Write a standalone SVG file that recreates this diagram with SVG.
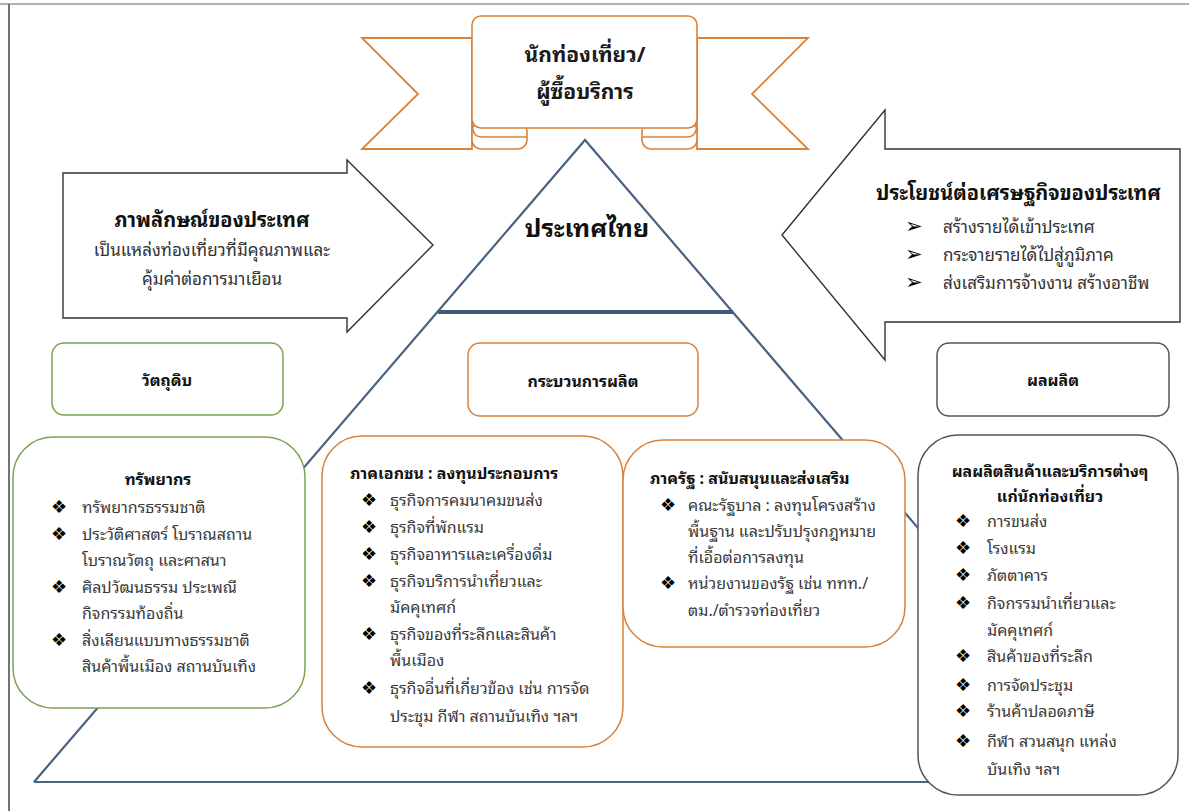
<svg xmlns="http://www.w3.org/2000/svg" width="1189" height="811" viewBox="0 0 1189 811">
<style>
text{font-family:"Noto Sans Thai Looped","Noto Sans Thai","Noto Sans Thai UI",Tahoma,"Leelawadee UI","DejaVu Sans",sans-serif;}
.t{font-size:16px;fill:#3a3a3a;}
.b{font-size:16px;font-weight:bold;fill:#111;}
.h{font-size:20px;font-weight:bold;fill:#111;}
.m{font-size:17px;fill:#333;}
.ban{font-size:21px;font-weight:bold;fill:#1a1a1a;}
.big{font-size:25px;font-weight:bold;fill:#111;}
.blt{font-family:"DejaVu Sans",sans-serif;font-size:18px;fill:#000;}
.arr{font-family:"DejaVu Sans",sans-serif;font-size:21px;fill:#000;}
.c{text-anchor:middle;}
.rib{fill:#fff;stroke:#d9823b;stroke-width:1.6;}
.grn{fill:#fff;stroke:#7aa356;stroke-width:1.5;}
.org{fill:#fff;stroke:#d9823b;stroke-width:1.5;}
.gry{fill:#fff;stroke:#555;stroke-width:1.5;}
.arrow{fill:#fff;stroke:#333;stroke-width:1.4;}
.tri{fill:none;stroke:#4a6381;stroke-width:2.2;}
</style>

<!-- page frame -->
<line x1="0" y1="4" x2="1189" y2="4" stroke="#999" stroke-width="1.5"/>
<line x1="9" y1="4" x2="9" y2="811" stroke="#444" stroke-width="1.5"/>

<!-- triangle / connectors -->
<g id="connectors">
  <path class="tri" d="M34,782 L585,140 L1136,782"/>
  <path class="tri" d="M34,782 L1136,782"/>
  <path d="M438,312 L733,312" stroke="#41597a" stroke-width="4" fill="none"/>
</g>

<g id="country">
  <text class="big c" x="587" y="237">ประเทศไทย</text>
</g>

<!-- banner -->
<g id="tourist">
  <polygon points="362,38 472,38 472,149 362,149 418,94" fill="#ffffff" stroke="#d9823b" stroke-width="1.8"/>
  <polygon points="808,38 697,38 697,149 808,149 752,94" fill="#ffffff" stroke="#d9823b" stroke-width="1.8"/>
  <rect class="rib" x="472" y="122" width="55" height="27" rx="9"/>
  <rect class="rib" x="642" y="122" width="55" height="27" rx="9"/>
  <rect class="rib" x="472" y="16" width="225" height="112" rx="9"/>
  <path d="M472,126 Q473,137 482,137 L527,137" fill="none" stroke="#d9823b" stroke-width="1.6"/>
  <path d="M697,126 Q696,137 687,137 L642,137" fill="none" stroke="#d9823b" stroke-width="1.6"/>
  <text class="ban c" x="585" y="62">นักท่องเที่ยว/</text>
  <text class="ban c" x="585" y="99">ผู้ซื้อบริการ</text>
</g>

<!-- left arrow -->
<g id="image">
  <polygon class="arrow" points="63,173 347,173 347,160 433,245 347,332 347,318 63,318"/>
  <text class="h c" x="212" y="227">ภาพลักษณ์ของประเทศ</text>
  <text class="m c" x="212" y="256">เป็นแหล่งท่องเที่ยวที่มีคุณภาพและ</text>
  <text class="m c" x="212" y="285">คุ้มค่าต่อการมาเยือน</text>
</g>

<!-- right arrow -->
<g id="benefit">
  <polygon class="arrow" points="782,235 885,110 885,149 1180,149 1180,322 885,322 885,360"/>
  <text class="h" x="876" y="200">ประโยชน์ต่อเศรษฐกิจของประเทศ</text>
  <text class="arr" x="905" y="233">➢</text>
  <text class="m" x="943" y="233">สร้างรายได้เข้าประเทศ</text>
  <text class="arr" x="905" y="261">➢</text>
  <text class="m" x="943" y="261">กระจายรายได้ไปสู่ภูมิภาค</text>
  <text class="arr" x="905" y="289">➢</text>
  <text class="m" x="943" y="289">ส่งเสริมการจ้างงาน สร้างอาชีพ</text>
</g>

<!-- header boxes -->
<g id="raw">
  <rect class="grn" x="52" y="343" width="231" height="72" rx="12"/>
  <text class="b c" x="167" y="386">วัตถุดิบ</text>
</g>
<g id="process">
  <rect class="org" x="468" y="343" width="230" height="73" rx="12"/>
  <text class="b c" x="583" y="387">กระบวนการผลิต</text>
</g>
<g id="output">
  <rect class="gry" x="937" y="343" width="232" height="73" rx="12"/>
  <text class="b c" x="1053" y="386">ผลผลิต</text>
</g>

<!-- resources -->
<g id="resources">
  <rect class="grn" x="13" y="437" width="292" height="271" rx="40"/>
  <text class="b c" x="158" y="485">ทรัพยากร</text>
  <text class="blt" x="51" y="513">❖</text><text class="t" x="82" y="513">ทรัพยากรธรรมชาติ</text>
  <text class="blt" x="51" y="540">❖</text><text class="t" x="82" y="540">ประวัติศาสตร์ โบราณสถาน</text>
  <text class="t" x="82" y="566">โบราณวัตถุ และศาสนา</text>
  <text class="blt" x="51" y="593">❖</text><text class="t" x="82" y="593">ศิลปวัฒนธรรม ประเพณี</text>
  <text class="t" x="82" y="619">กิจกรรมท้องถิ่น</text>
  <text class="blt" x="51" y="646">❖</text><text class="t" x="82" y="646">สิ่งเลียนแบบทางธรรมชาติ</text>
  <text class="t" x="82" y="672">สินค้าพื้นเมือง สถานบันเทิง</text>
</g>

<!-- private sector -->
<g id="private">
  <rect class="org" x="322" y="436" width="301" height="311" rx="40"/>
  <text class="b" x="350" y="479">ภาคเอกชน : ลงทุนประกอบการ</text>
  <text class="blt" x="361" y="506">❖</text><text class="t" x="390" y="506">ธุรกิจการคมนาคมขนส่ง</text>
  <text class="blt" x="361" y="533">❖</text><text class="t" x="390" y="533">ธุรกิจที่พักแรม</text>
  <text class="blt" x="361" y="560">❖</text><text class="t" x="390" y="560">ธุรกิจอาหารและเครื่องดื่ม</text>
  <text class="blt" x="361" y="587">❖</text><text class="t" x="390" y="587">ธุรกิจบริการนำเที่ยวและ</text>
  <text class="t" x="390" y="613">มัคคุเทศก์</text>
  <text class="blt" x="361" y="640">❖</text><text class="t" x="390" y="640">ธุรกิจของที่ระลึกและสินค้า</text>
  <text class="t" x="390" y="666">พื้นเมือง</text>
  <text class="blt" x="361" y="694">❖</text><text class="t" x="390" y="694">ธุรกิจอื่นที่เกี่ยวข้อง เช่น การจัด</text>
  <text class="t" x="390" y="722">ประชุม กีฬา สถานบันเทิง ฯลฯ</text>
</g>

<!-- government -->
<g id="government">
  <rect class="org" x="623" y="440" width="282" height="207" rx="40"/>
  <text class="b" x="650" y="484">ภาครัฐ : สนับสนุนและส่งเสริม</text>
  <text class="blt" x="660" y="511">❖</text><text class="t" x="688" y="511">คณะรัฐบาล : ลงทุนโครงสร้าง</text>
  <text class="t" x="688" y="537">พื้นฐาน และปรับปรุงกฎหมาย</text>
  <text class="t" x="688" y="563">ที่เอื้อต่อการลงทุน</text>
  <text class="blt" x="660" y="589">❖</text><text class="t" x="688" y="589">หน่วยงานของรัฐ เช่น ททท./</text>
  <text class="t" x="688" y="616">ตม./ตำรวจท่องเที่ยว</text>
</g>

<!-- products -->
<g id="products">
  <rect class="gry" x="918" y="435" width="260" height="360" rx="40"/>
  <text class="b c" x="1050" y="477">ผลผลิตสินค้าและบริการต่างๆ</text>
  <text class="b c" x="1050" y="502">แก่นักท่องเที่ยว</text>
  <text class="blt" x="955" y="527">❖</text><text class="t" x="987" y="527">การขนส่ง</text>
  <text class="blt" x="955" y="554">❖</text><text class="t" x="987" y="554">โรงแรม</text>
  <text class="blt" x="955" y="581">❖</text><text class="t" x="987" y="581">ภัตตาคาร</text>
  <text class="blt" x="955" y="609">❖</text><text class="t" x="987" y="609">กิจกรรมนำเที่ยวและ</text>
  <text class="t" x="987" y="636">มัคคุเทศก์</text>
  <text class="blt" x="955" y="662">❖</text><text class="t" x="987" y="662">สินค้าของที่ระลึก</text>
  <text class="blt" x="955" y="691">❖</text><text class="t" x="987" y="691">การจัดประชุม</text>
  <text class="blt" x="955" y="717">❖</text><text class="t" x="987" y="717">ร้านค้าปลอดภาษี</text>
  <text class="blt" x="955" y="747">❖</text><text class="t" x="987" y="747">กีฬา สวนสนุก แหล่ง</text>
  <text class="t" x="987" y="775">บันเทิง ฯลฯ</text>
</g>
</svg>
